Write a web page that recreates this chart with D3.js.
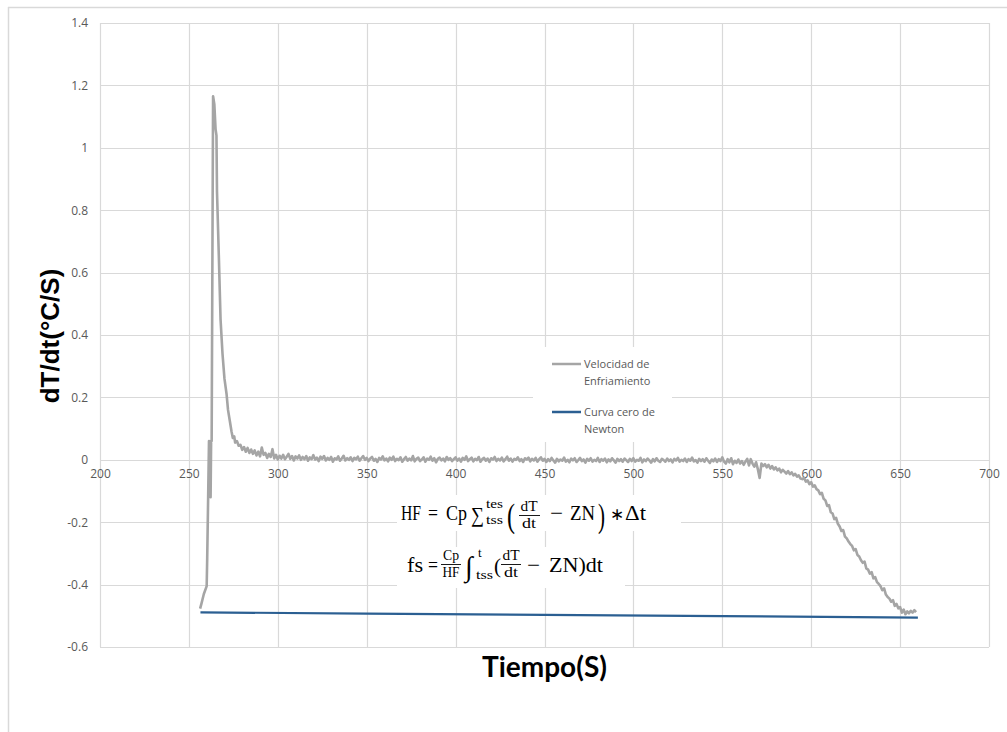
<!DOCTYPE html>
<html>
<head>
<meta charset="utf-8">
<script src="https://cdn.jsdelivr.net/npm/d3@7"></script>
<style>
  body { margin: 0; background: #fff; }
  svg { display: block; }
</style>
</head>
<body>
<svg id="chart" width="1007" height="732"></svg>
<script>
// tick values
const xTickValues = [200, 250, 300, 350, 400, 450, 500, 550, 600, 650, 700];
const yTickValues = [-0.6, -0.4, -0.2, 0, 0.2, 0.4, 0.6, 0.8, 1, 1.2, 1.4];

const seriesNames = ["Velocidad de Enfriamiento", "Curva cero de Newton"];

// Velocidad de Enfriamiento: [tiempo, dT/dt]
const coolingPeak = [
  [256.3,-0.477],[257.1,-0.46],[258.4,-0.43],[260,-0.405],[260.3,-0.315],[260.8,-0.13],
  [261.3,0.06],[261.6,-0.11],[261.9,0.05],[262.2,-0.12],[262.5,0.06],[262.8,0.06],
  [263.6,1.165],[264.3,1.14],[265,1.06],[265.5,1.04],[265.8,0.86],[266.9,0.64],
  [267.8,0.45],[268.9,0.34],[270,0.26],[271.2,0.21],[272,0.16],[273,0.125],[274,0.09],
  [274.7,0.07],[275.5,0.075],[276,0.055],[277,0.06],[278,0.045]
];
const coolingPlateau = [
  [279,.048],[280,.032],[281,.041],[282,.026],[283,.038],[284,.022],[285,.033],[286,.019],[287,.03],[288,.014],
  [289,.026],[290,.011],[291,.039],[292,.016],[293,.022],[294,.006],[295,.019],[296,.009],[297,.034],[298,.004],
  [299,.016],[300,.001],[301,.013],[302,.004],[303,.016],[304,.002],[305,.01],[306,.019],[307,.003],[308,.012],
  [309,-.002],[310,.011],[311,.004],[312,.014],[313,0],[314,.009],[315,.002],[316,.012],[317,-.003],[318,.008],
  [319,.002],[320,.015],[321,.001],[322,.007],[323,-.004],[324,.01],[325,.003],[326,.012],[327,-.002],[328,.006],
  [329,0],[330,.009],[331,-.006],[332,.005],[333,.001],[334,.011],[335,-.003],[336,.004],[337,.013],[338,-.002],
  [339,.005],[340,0],[341,.008],[342,-.004],[343,.006],[344,.002],[345,.01],[346,-.003],[347,.005],[348,.012],
  [349,0],[350,.006],[351,-.004],[352,.004],[353,.009],[354,-.003],[355,.003],[356,-.007],[357,.006],[358,.001],
  [359,.011],[360,-.002],[361,.004],[362,-.005],[363,.007],[364,0],[365,.01],[366,-.004],[367,.003],[368,-.001],
  [369,.008],[370,-.006],[371,.002],[372,.009],[373,-.003],[374,.004],[375,-.002],[376,.012],[377,-.005],[378,.003],
  [379,.007],[380,-.004],[381,.001],[382,.008],[383,-.006],[384,.004],[385,0],[386,.01],[387,-.003],[388,.005],
  [389,-.008],[390,.003],[391,.007],[392,-.002],[393,.004],[394,-.005],[395,.009],[396,0],[397,.005],[398,-.004],
  [399,.002],[400,.008],[401,-.003],[402,.004],[403,-.006],[404,.006],[405,0],[406,.011],[407,-.004],[408,.002],
  [409,.007],[410,-.005],[411,.003],[412,-.001],[413,.009],[414,-.006],[415,.002],[416,.006],[417,-.003],[418,.004],
  [419,-.007],[420,.005],[421,.001],[422,.009],[423,-.004],[424,.003],[425,-.002],[426,.007],[427,-.005],[428,.002],
  [429,.01],[430,-.003],[431,.004],[432,-.006],[433,.003],[434,0],[435,.008],[436,-.004],[437,.002],[438,-.007],
  [439,.005],[440,.001],[441,.007],[442,-.005],[443,.003],[444,-.002],[445,.006],[446,-.006],[447,.002],[448,.008],
  [449,-.003],[450,.003],[451,-.007],[452,.002],[453,-.004],[454,.006],[455,-.002],[456,-.009],[457,.003],[458,-.005],
  [459,.001],[460,-.003],[461,.007],[462,-.006],[463,0],[464,-.008],[465,.004],[466,-.002],[467,.005],[468,-.007],
  [469,-.001],[470,.006],[471,-.004],[472,.001],[473,-.009],[474,.003],[475,-.003],[476,.005],[477,-.006],[478,0],
  [479,-.004],[480,.006],[481,-.007],[482,.002],[483,-.003],[484,.004],[485,-.008],[486,.001],[487,-.005],[488,.005],
  [489,-.002],[490,-.009],[491,.003],[492,-.004],[493,.002],[494,-.006],[495,.004],[496,-.001],[497,-.007],[498,.003],
  [499,-.004],[500,.005],[501,-.006],[502,0],[503,-.003],[504,.006],[505,-.008],[506,.001],[507,-.004],[508,.004],
  [509,-.002],[510,-.009],[511,.002],[512,-.005],[513,.005],[514,-.003],[515,-.007],[516,.003],[517,-.001],[518,-.006],
  [519,.004],[520,-.004],[521,.001],[522,-.008],[523,.003],[524,-.002],[525,.006],[526,-.006],[527,0],[528,-.004],
  [529,.004],[530,-.007],[531,.002],[532,-.003],[533,.007],[534,-.005],[535,-.001],[536,-.009],[537,.003],[538,-.004],
  [539,.002],[540,-.006],[541,.005],[542,-.003],[543,-.01],[544,.001],[545,-.005],[546,.004],[547,-.007],[548,.002],
  [549,-.004],[550,.008],[551,-.006],[552,-.012],[553,.002],[554,-.008],[555,.005],[556,-.014],[557,-.003],[558,-.01],
  [559,.001],[560,-.012],[561,-.004],[562,-.016],[563,-.006],[564,.003],[565,-.018],[566,.002],[567,-.012],[568,-.022],
  [569,-.008],[570,-.03],[571,-.058],[572,-.012],[573,-.02],[574,-.014],[575,-.024],[576,-.016],[577,-.028],[578,-.02],
  [579,-.031],[580,-.024],[581,-.034],[582,-.028],[583,-.04],[584,-.032],[585,-.038],[586,-.044],[587,-.036],[588,-.046],
  [589,-.04],[590,-.05],[591,-.045],[592,-.054],[593,-.05],[594,-.06]
];
const coolingTail = [
  [595,-.062],[596,-.058],[597,-.07],[598,-.066],[599,-.078],[600,-.072],[601,-.086],[602,-.082],[603,-.094],[604,-.098],
  [605,-.11],[606,-.106],[607,-.125],[608,-.13],[609,-.148],[610,-.145],[611,-.168],[612,-.172],[613,-.19],[614,-.186],
  [615,-.205],[616,-.214],[617,-.228],[618,-.225],[619,-.246],[620,-.252],[621,-.262],[622,-.27],[623,-.276],[624,-.29],
  [625,-.286],[626,-.305],[627,-.31],[628,-.322],[629,-.33],[630,-.326],[631,-.348],[632,-.352],[633,-.365],[634,-.36],
  [635,-.38],[636,-.376],[637,-.392],[638,-.398],[639,-.405],[640,-.418],[641,-.412],[642,-.432],[643,-.44],[644,-.445],
  [645,-.455],[646,-.45],[647,-.468],[648,-.462],[649,-.476],[650,-.472],[651,-.49],[652,-.48],[653,-.495],[654,-.486],
  [655,-.492],[656,-.484],[657,-.49],[658,-.482],[659,-.488]
];
// Curva cero de Newton
const newtonZero = [[256.5,-0.489],[350,-0.493],[450,-0.497],[550,-0.501],[660,-0.506]];

const cooling = coolingPeak.concat(coolingPlateau, coolingTail);

const svg = d3.select("#chart");
const margin = {left: 100, right: 18, top: 23, bottom: 85};
const W = 1007, H = 732;
const gridColor = "#d9d9d9", labelColor = "#595959";

// chart frame (only the top and left edges are in view)
svg.append("line").attr("x1", 8).attr("x2", W).attr("y1", 7.5).attr("y2", 7.5)
  .attr("stroke", gridColor).attr("stroke-width", 1.5);
svg.append("line").attr("x1", 8.5).attr("x2", 8.5).attr("y1", 7).attr("y2", H)
  .attr("stroke", gridColor).attr("stroke-width", 1.5);

const x = d3.scaleLinear().domain([200, 700]).range([margin.left, W - margin.right]);
const y = d3.scaleLinear().domain([-0.6, 1.4]).range([H - margin.bottom, margin.top]);

// gridlines
const grid = svg.append("g");
grid.selectAll(".h").data(yTickValues).enter().append("line")
  .attr("x1", x(200)).attr("x2", x(700))
  .attr("y1", d => Math.round(y(d)) + 0.5).attr("y2", d => Math.round(y(d)) + 0.5)
  .attr("stroke", gridColor).attr("stroke-width", 1.2);
grid.selectAll(".v").data(xTickValues).enter().append("line")
  .attr("y1", y(1.4)).attr("y2", y(-0.6))
  .attr("x1", d => Math.round(x(d)) + 0.5).attr("x2", d => Math.round(x(d)) + 0.5)
  .attr("stroke", gridColor).attr("stroke-width", 1.2);

const fmt = d => String(+d.toFixed(1));

// y axis labels
const yAxis = svg.append("g").attr("transform", `translate(${x(200)},0)`)
  .call(d3.axisLeft(y).tickValues(yTickValues).tickSize(0).tickPadding(12).tickFormat(fmt));
yAxis.select(".domain").remove();
yAxis.selectAll("text").attr("fill", labelColor).style("font-family", "'Open Sans', sans-serif").style("font-size", "12px");

// x axis labels sit under the zero line
const xAxis = svg.append("g").attr("transform", `translate(0,${y(0)})`)
  .call(d3.axisBottom(x).tickValues(xTickValues).tickSize(0).tickPadding(10).tickFormat(d => d));
xAxis.select(".domain").remove();
xAxis.selectAll("text").attr("fill", labelColor).style("font-family", "'Open Sans', sans-serif").style("font-size", "12px");

// axis titles
svg.append("text").attr("transform", "translate(59,336) rotate(-90)")
  .attr("text-anchor", "middle")
  .style("font-family", "'Liberation Sans', Arial, sans-serif").style("font-weight", "bold").style("font-size", "26px")
  .attr("fill", "#000").text("dT/dt(°C/S)");
svg.append("text").attr("x", (x(200) + x(700)) / 2).attr("y", 677)
  .attr("text-anchor", "middle")
  .style("font-family", "Lato, sans-serif").style("font-weight", "bold").style("font-size", "28px")
  .attr("fill", "#000").text("Tiempo(S)");

// white panels behind legend and equations
svg.append("rect").attr("x", 533).attr("y", 347).attr("width", 139).attr("height", 95).attr("fill", "#fff");
svg.append("rect").attr("x", 397).attr("y", 495).attr("width", 284).attr("height", 36).attr("fill", "#fff");
svg.append("rect").attr("x", 397).attr("y", 547).attr("width", 228).attr("height", 41).attr("fill", "#fff");

// equations
const eq = svg.append("g").style("font-family", "'Liberation Serif', 'Times New Roman', serif").attr("fill", "#000");
const put = (t, px, py, size, width, anchor) => {
  const el = eq.append("text").attr("x", px).attr("y", py)
    .attr("text-anchor", anchor || "start").style("font-size", size + "px").text(t);
  if (width) el.attr("textLength", width).attr("lengthAdjust", "spacingAndGlyphs");
  return el;
};
const bar = (x1, x2, yy) => eq.append("line").attr("x1", x1).attr("x2", x2).attr("y1", yy).attr("y2", yy)
  .attr("stroke", "#000").attr("stroke-width", 0.9);

// HF = Cp Σ (dT/dt − ZN) * Δt
put("HF", 401, 520, 22, 20);
put("=", 428, 520, 21, 10);
put("Cp", 446, 520, 22, 21);
put("∑", 471, 522, 21, 13);
put("tes", 486, 508, 13, 17);
put("tss", 486, 524, 13, 17);
put("(", 507, 527, 33, 8);
put("dT", 529, 511, 14, 17, "middle");
bar(519, 540, 515.5);
put("dt", 529, 528, 14, 14, "middle");
put("−", 550, 520, 21, 13);
put("ZN", 570, 520, 22, 25);
put(")", 598, 527, 33, 7);
put("∗", 610, 520, 17);
put("Δt", 625, 520, 22, 21);

// fs = Cp/HF ∫ (dT/dt − ZN)dt
put("fs", 407, 572, 22, 16);
put("=", 428, 572, 21, 10);
put("Cp", 451, 560, 14, 16, "middle");
bar(441, 461, 564.5);
put("HF", 451, 577, 14, 17, "middle");
put("∫", 465, 576, 28);
put("t", 478, 557, 13);
put("tss", 476, 579, 13, 17);
put("(", 494, 573, 21);
put("dT", 511, 560, 14, 17, "middle");
bar(501, 521, 564.5);
put("dt", 511, 577, 14, 14, "middle");
put("−", 527, 572, 21, 13);
put("ZN)dt", 549, 572, 22, 54);

// legend
const legend = svg.append("g").style("font-family", "'Open Sans', sans-serif").style("font-size", "11px").attr("fill", labelColor);
legend.append("line").attr("x1", 552).attr("x2", 581).attr("y1", 364).attr("y2", 364).attr("stroke", "#a5a5a5").attr("stroke-width", 2.5);
legend.append("text").attr("x", 584).attr("y", 368).text("Velocidad de");
legend.append("text").attr("x", 584).attr("y", 385).text("Enfriamiento");
legend.append("line").attr("x1", 552).attr("x2", 581).attr("y1", 412).attr("y2", 412).attr("stroke", "#2b5f92").attr("stroke-width", 2.5);
legend.append("text").attr("x", 584).attr("y", 416).text("Curva cero de");
legend.append("text").attr("x", 584).attr("y", 433).text("Newton");

// series
const line = d3.line().x(d => x(d[0])).y(d => y(d[1]));
svg.append("path").datum(cooling).attr("d", line)
  .attr("fill", "none").attr("stroke", "#a5a5a5").attr("stroke-width", 2.6).attr("stroke-linejoin", "round");
svg.append("path").datum(newtonZero).attr("d", line)
  .attr("fill", "none").attr("stroke", "#2b5f92").attr("stroke-width", 2.2);
</script>
</body>
</html>
